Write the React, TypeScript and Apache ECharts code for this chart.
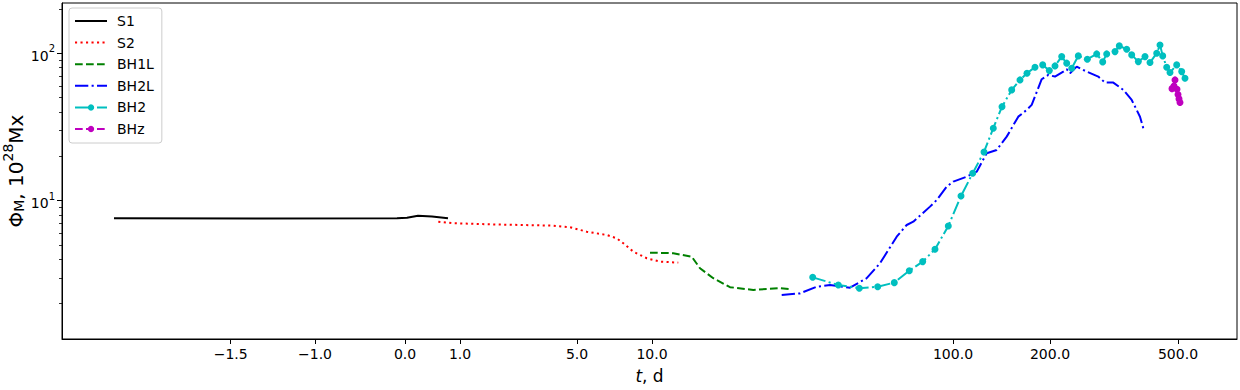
import React, { useEffect, useRef } from "react";
import * as echarts from "echarts";

// x axis: composite axis coordinate (0..1175) with labelled tick positions
const xAxisMin = 0;
const xAxisMax = 1175;
const xTickPos = [168.7, 253, 343, 398, 515, 590, 891, 988, 1116];
const xTickLabels = ["−1.5", "−1.0", "0.0", "1.0", "5.0", "10.0", "100.0", "200.0", "500.0"];

// y axis: log, Phi_M in 10^28 Mx
const yMin = 1.153;
const yMax = 219;
const yMajorTicks = [10, 100];
const yMinorTicks = [2, 3, 4, 5, 6, 7, 8, 9, 20, 30, 40, 50, 60, 70, 80, 90, 200];

const seriesNames = ["S1", "S2", "BH1L", "BH2L", "BH2", "BHz"];
const markerSeries = ["BH2", "BHz"];

const s1X = [52, 200, 335, 345, 356, 370, 386];
const s1Y = [7.6, 7.58, 7.6, 7.65, 7.9, 7.8, 7.6];

const s2X = [376.3, 391, 424.7, 458, 491, 508, 524.7, 544.7, 554.7, 561.3, 571.3, 584.7, 598, 616.3];
const s2Y = [7.2, 7.03, 6.92, 6.84, 6.77, 6.6, 6.16, 5.85, 5.56, 5.14, 4.51, 4.07, 3.86, 3.8];

const bh1lX = [588, 611.3, 629.7, 638, 651.3, 668, 691.3, 718, 729.7];
const bh1lY = [4.44, 4.4, 4.17, 3.48, 2.98, 2.59, 2.48, 2.55, 2.51];

const bh2lX = [719.7, 738, 754.7, 768, 788, 804.7, 818, 834.7, 844.7, 851.3, 868, 874.7, 884.7, 891.3, 904.7, 914.7, 924.7, 934.7, 944.7, 956.3, 964.7, 969.7, 979.7, 986.3, 993, 1001.3, 1004.7, 1008, 1014.7, 1024.7, 1036.3, 1043, 1051.3, 1061.3, 1069.7, 1078, 1081.3];
const bh2lY = [2.29, 2.35, 2.61, 2.68, 2.57, 2.98, 3.76, 5.7, 6.84, 7.2, 9.11, 10.1, 12.45, 13.46, 14.55, 15.73, 20.97, 22.08, 27.18, 37.14, 41.25, 44.6, 66.6, 71.2, 69.4, 75.0, 77.9, 73.2, 81.1, 75.0, 69.4, 63.2, 63.2, 56.4, 48.2, 37.1, 31.0];

const bh2X = [750.7, 776.3, 797.3, 815.7, 832.3, 847.3, 860.7, 873, 886.3, 899, 910.7, 922, 931.3, 940, 949.7, 958, 965, 973, 980.7, 987.3, 993, 999.7, 1004.7, 1009.7, 1016.3, 1025.3, 1034.7, 1040.7, 1044.7, 1053, 1057.3, 1064.7, 1069.7, 1076.3, 1083, 1088, 1094.7, 1098, 1100.7, 1104.7, 1108, 1114.7, 1119.7, 1123];
const bh2Y = [3.02, 2.68, 2.55, 2.61, 2.78, 3.35, 3.86, 4.68, 6.74, 10.76, 15.35, 21.4, 31.0, 43.4, 56.4, 65.9, 73.2, 80.4, 83.3, 76.2, 82.0, 94.8, 85.6, 79.1, 95.9, 91.0, 98.9, 87.3, 98.9, 102.5, 112.1, 106.4, 97.4, 87.7, 94.8, 86.4, 100, 113.8, 95.9, 80.4, 73.9, 83.3, 75.0, 67.7];

const bhzX = [1113, 1110, 1112, 1115, 1116, 1117, 1118];
const bhzY = [65.9, 57.5, 60.0, 57.0, 52.5, 49.0, 46.3];

const FONT = "DejaVu Sans";

function pairs(xs: number[], ys: number[]) {
  return xs.map((x, i) => [x, ys[i]]);
}

export default function App() {
  const ref = useRef<HTMLDivElement>(null);

  useEffect(() => {
    if (!ref.current) return;
    const chart = echarts.init(ref.current, null, { renderer: "svg" });

    const dashDot = [13.3, 3.3, 2.1, 3.3];
    const dashed = [7.7, 3.3];
    const dotted = [2.1, 3.4];

    const supLabel = (v: number) => {
      const e = Math.round(Math.log10(v));
      return "{b|10}{s|" + e + "}";
    };

    const option: any = {
      animation: false,
      backgroundColor: "#ffffff",
      textStyle: { fontFamily: FONT },
      grid: {
        left: 62,
        right: 3,
        top: 3,
        bottom: 51,
        containLabel: false,
        outerBoundsMode: "none",
        show: true,
        borderColor: "#000",
        borderWidth: 1,
        backgroundColor: "transparent",
      },
      legend: {
        orient: "vertical",
        left: 69,
        top: 8,
        itemWidth: 32,
        itemHeight: 8,
        itemGap: 7.6,
        padding: [6, 8, 7, 5],
        backgroundColor: "rgba(255,255,255,0.8)",
        borderColor: "#cccccc",
        borderWidth: 1,
        borderRadius: 3,
        textStyle: { fontSize: 14, color: "#000", fontFamily: FONT, padding: [0, 0, 0, 5] },
        data: seriesNames.map((n) =>
          markerSeries.indexOf(n) >= 0 ? { name: n } : { name: n, itemStyle: { opacity: 0 } }
        ),
      },
      xAxis: {
        type: "value",
        min: xAxisMin,
        max: xAxisMax,
        axisLine: { show: true, onZero: false, lineStyle: { color: "#000", width: 1 } },
        axisTick: { show: true, customValues: xTickPos, length: 5, lineStyle: { color: "#000", width: 1 } },
        axisLabel: {
          customValues: xTickPos,
          margin: 8,
          color: "#000",
          fontSize: 14,
          fontFamily: FONT,
          formatter: (v: number) => {
            const i = xTickPos.findIndex((p) => Math.abs(p - v) < 1e-6);
            return i >= 0 ? xTickLabels[i] : "";
          },
        },
        splitLine: { show: false },
        name: "{i|t}{a|, d}",
        nameLocation: "middle",
        nameGap: 28,
        nameMoveOverlap: false,
        nameTextStyle: {
          rich: {
            i: { fontSize: 17, fontStyle: "italic", fontFamily: FONT, color: "#000" },
            a: { fontSize: 17, fontFamily: FONT, color: "#000" },
          },
        },
      },
      yAxis: [
        {
          type: "log",
          logBase: 10,
          min: yMin,
          max: yMax,
          axisLine: { show: true, lineStyle: { color: "#000", width: 1 } },
          axisTick: { show: true, customValues: yMajorTicks, length: 5, lineStyle: { color: "#000", width: 1 } },
          axisLabel: {
            customValues: yMajorTicks,
            margin: 7,
            color: "#000",
            formatter: supLabel,
            rich: {
              b: { fontSize: 14, fontFamily: FONT, color: "#000", padding: [5, 0, 0, 0] },
              s: { fontSize: 10, fontFamily: FONT, color: "#000", verticalAlign: "top" },
            },
          },
          splitLine: { show: false },
          minorTick: { show: false },
          name: "{a|Φ}{sub|M}{a|, 10}{sup|28}{a|Mx}",
          nameLocation: "middle",
          nameRotate: 90,
          nameGap: 36,
          nameMoveOverlap: false,
          nameTextStyle: {
            rich: {
              a: { fontSize: 20, fontFamily: FONT, color: "#000", padding: [5, 0, 0, 0] },
              sub: { fontSize: 14, fontFamily: FONT, color: "#000", verticalAlign: "bottom" },
              sup: { fontSize: 14, fontFamily: FONT, color: "#000", verticalAlign: "top" },
            },
          },
        },
        {
          type: "log",
          logBase: 10,
          min: yMin,
          max: yMax,
          position: "left",
          axisLine: { show: false },
          axisTick: { show: true, customValues: yMinorTicks, length: 3, lineStyle: { color: "#000", width: 0.8 } },
          axisLabel: { show: false },
          splitLine: { show: false },
        },
      ],
      series: [
        {
          name: "S1",
          type: "line",
          data: pairs(s1X, s1Y),
          symbol: "none",
          color: "#000000",
          lineStyle: { color: "#000000", width: 2, type: "solid" },
        },
        {
          name: "S2",
          type: "line",
          data: pairs(s2X, s2Y),
          symbol: "none",
          color: "#ff0000",
          lineStyle: { color: "#ff0000", width: 2, type: dotted, cap: "butt" },
        },
        {
          name: "BH1L",
          type: "line",
          data: pairs(bh1lX, bh1lY),
          symbol: "none",
          color: "#008000",
          lineStyle: { color: "#008000", width: 2, type: dashed },
        },
        {
          name: "BH2L",
          type: "line",
          data: pairs(bh2lX, bh2lY),
          symbol: "none",
          color: "#0000ff",
          lineStyle: { color: "#0000ff", width: 2, type: dashDot },
        },
        {
          name: "BH2",
          type: "line",
          data: pairs(bh2X, bh2Y),
          symbol: "circle",
          symbolSize: 7,
          showSymbol: true,
          color: "#00bfbf",
          itemStyle: { color: "#00bfbf" },
          lineStyle: { color: "#00bfbf", width: 2, type: dashDot },
        },
        {
          name: "BHz",
          type: "line",
          data: pairs(bhzX, bhzY),
          symbol: "circle",
          symbolSize: 7,
          showSymbol: true,
          color: "#bf00bf",
          itemStyle: { color: "#bf00bf" },
          lineStyle: { color: "#bf00bf", width: 2, type: dashed },
        },
      ],
    };

    chart.setOption(option);
    return () => chart.dispose();
  }, []);

  return (
    <div
      ref={ref}
      style={{ position: "fixed", left: 0, top: 0, width: 1240, height: 390, background: "#fff" }}
    />
  );
}
